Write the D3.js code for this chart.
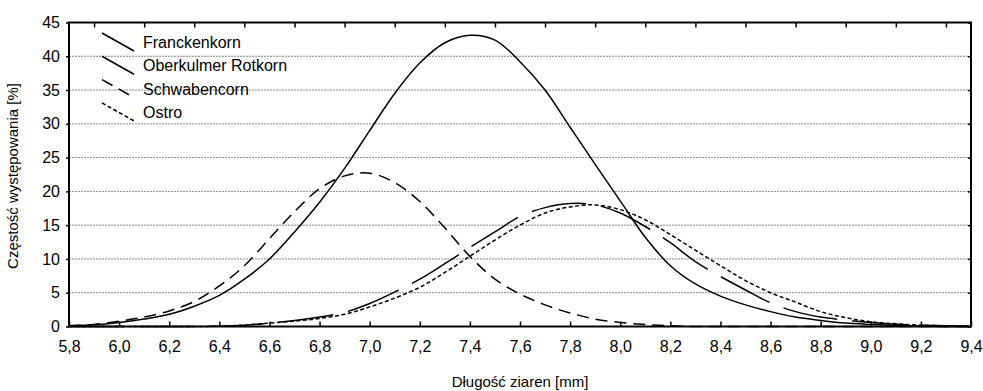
<!DOCTYPE html>
<html>
<head>
<meta charset="utf-8">
<script src="https://cdnjs.cloudflare.com/ajax/libs/d3/7.8.5/d3.min.js"></script>
<style>
body { margin: 0; background: #fff; }
svg text { font-family: "Liberation Sans", Arial, sans-serif; fill: #000; }
</style>
</head>
<body>
<div id="chart"></div>
<script>
// grain length (mm), one reading every 0.1 mm
const lengths = [5.8, 5.9, 6.0, 6.1, 6.2, 6.3, 6.4, 6.5, 6.6, 6.7, 6.8, 6.9, 7.0, 7.1, 7.2, 7.3, 7.4, 7.5, 7.6,
                 7.7, 7.8, 7.9, 8.0, 8.1, 8.2, 8.3, 8.4, 8.5, 8.6, 8.7, 8.8, 8.9, 9.0, 9.1, 9.2, 9.3, 9.4];

const franckenkorn = [0.1, 0.25, 0.6, 1.1, 1.8, 3.0, 4.6, 7.0, 10.0, 14.0, 18.4, 23.4, 29.0, 34.5, 39.0, 42.0, 43.1, 42.4, 39.2,
                      35.0, 29.5, 24.0, 18.6, 13.2, 9.0, 6.3, 4.5, 3.2, 2.2, 1.4, 0.9, 0.5, 0.3, 0.15, 0.05, 0, 0];
const oberkulmer = [0, 0, 0, 0, 0, 0, 0.05, 0.2, 0.5, 0.9, 1.4, 2.1, 3.4, 5.1, 7.0, 9.3, 11.7, 14.0, 16.3,
                    17.6, 18.2, 18.0, 16.8, 14.8, 12.4, 9.6, 7.4, 5.4, 3.5, 2.2, 1.4, 0.95, 0.6, 0.35, 0.2, 0.1, 0];
const schwabencorn = [0.1, 0.3, 0.8, 1.4, 2.3, 3.7, 6.0, 9.0, 13.0, 17.0, 20.4, 22.3, 22.7, 21.3, 18.5, 14.6, 10.4, 7.0, 4.8,
                      3.2, 2.0, 1.1, 0.6, 0.3, 0.1, 0, 0, 0, 0, 0, 0, 0, 0, 0, 0, 0, 0];
const ostro = [0, 0, 0, 0, 0, 0, 0.05, 0.2, 0.5, 0.8, 1.2, 1.8, 2.9, 4.2, 5.8, 8.0, 10.4, 12.8, 15.0,
               16.8, 17.7, 18.0, 17.3, 15.8, 13.6, 11.3, 9.0, 6.8, 5.0, 3.6, 2.2, 1.3, 0.7, 0.4, 0.2, 0.1, 0];

const seriesNames = ["Franckenkorn", "Oberkulmer Rotkorn", "Schwabencorn", "Ostro"];
const seriesValues = [franckenkorn, oberkulmer, schwabencorn, ostro];
const seriesDash = ["none", "55,15", "12,7", "4,2.5"];

const xTicks = [5.8, 6.0, 6.2, 6.4, 6.6, 6.8, 7.0, 7.2, 7.4, 7.6, 7.8, 8.0, 8.2, 8.4, 8.6, 8.8, 9.0, 9.2, 9.4];
const xTopTicks = [5.9, 6.1, 6.3, 6.5, 6.7, 6.9, 7.1, 7.3, 7.5, 7.7, 7.9, 8.1, 8.3, 8.5, 8.7, 8.9, 9.1, 9.3];
const yTicks = [0, 5, 10, 15, 20, 25, 30, 35, 40, 45];

const width = 983, height = 391;
const plot = { left: 69, right: 971, top: 22.5, bottom: 326.5 };

const svg = d3.select("#chart").append("svg")
    .attr("width", width)
    .attr("height", height);

const x = d3.scaleLinear().domain([5.8, 9.4]).range([plot.left, plot.right]);
const y = d3.scaleLinear().domain([0, 45]).range([plot.bottom, plot.top]);

const fmt = d => d3.format(".1f")(d).replace(".", ",");

// grid
svg.append("g").selectAll("line")
    .data(yTicks.filter(d => d > 0 && d < 45))
    .enter().append("line")
    .attr("x1", plot.left).attr("x2", plot.right)
    .attr("y1", d => y(d)).attr("y2", d => y(d))
    .attr("stroke", "#888")
    .attr("stroke-width", 1)
    .attr("stroke-dasharray", "2,1");

// curves
const line = d3.line()
    .x((d, i) => x(lengths[i]))
    .y(d => y(Math.max(0, d)))
    .curve(d3.curveCatmullRom.alpha(0.5));

for (let s = 0; s < seriesValues.length; s++) {
    svg.append("path")
        .attr("d", line(seriesValues[s]))
        .attr("fill", "none")
        .attr("stroke", "#000")
        .attr("stroke-width", 1.5)
        .attr("stroke-dasharray", seriesDash[s]);
}

// axes
const bottomAxis = svg.append("g")
    .attr("transform", "translate(0," + plot.bottom + ")")
    .call(d3.axisBottom(x).tickValues(xTicks).tickFormat(fmt).tickSize(-5).tickPadding(14));
bottomAxis.selectAll("text").style("font-size", "16px");

svg.append("g")
    .attr("transform", "translate(0," + plot.top + ")")
    .call(d3.axisTop(x).tickValues(xTopTicks).tickFormat("").tickSize(-5));

const leftAxis = svg.append("g")
    .attr("transform", "translate(" + plot.left + ",0)")
    .call(d3.axisLeft(y).tickValues(yTicks).tickSize(3).tickPadding(6));
leftAxis.selectAll("text").style("font-size", "16px");

svg.append("g")
    .attr("transform", "translate(" + plot.right + ",0)")
    .call(d3.axisRight(y).tickValues(yTicks).tickFormat("").tickSize(-3));

svg.selectAll(".domain").remove();
svg.selectAll(".tick line").attr("stroke", "#000").attr("stroke-width", 1.5);

svg.append("rect")
    .attr("x", plot.left).attr("y", plot.top)
    .attr("width", plot.right - plot.left)
    .attr("height", plot.bottom - plot.top)
    .attr("fill", "none")
    .attr("stroke", "#000")
    .attr("stroke-width", 2);

// legend
const legend = svg.append("g");
for (let i = 0; i < seriesNames.length; i++) {
    const base = 48 + i * 23.3;
    legend.append("line")
        .attr("x1", 102).attr("y1", base - 15)
        .attr("x2", 134).attr("y2", base + 3)
        .attr("stroke", "#000")
        .attr("stroke-width", 1.6)
        .attr("stroke-dasharray", seriesDash[i]);
    legend.append("text")
        .attr("x", 143).attr("y", base)
        .style("font-size", "16px")
        .text(seriesNames[i]);
}

// axis titles
svg.append("text")
    .attr("transform", "translate(18,176) rotate(-90)")
    .attr("text-anchor", "middle")
    .style("font-size", "15px")
    .text("Częstość występowania [%]");

svg.append("text")
    .attr("x", (plot.left + plot.right) / 2)
    .attr("y", 387)
    .attr("text-anchor", "middle")
    .style("font-size", "15px")
    .text("Długość ziaren [mm]");
</script>
</body>
</html>
